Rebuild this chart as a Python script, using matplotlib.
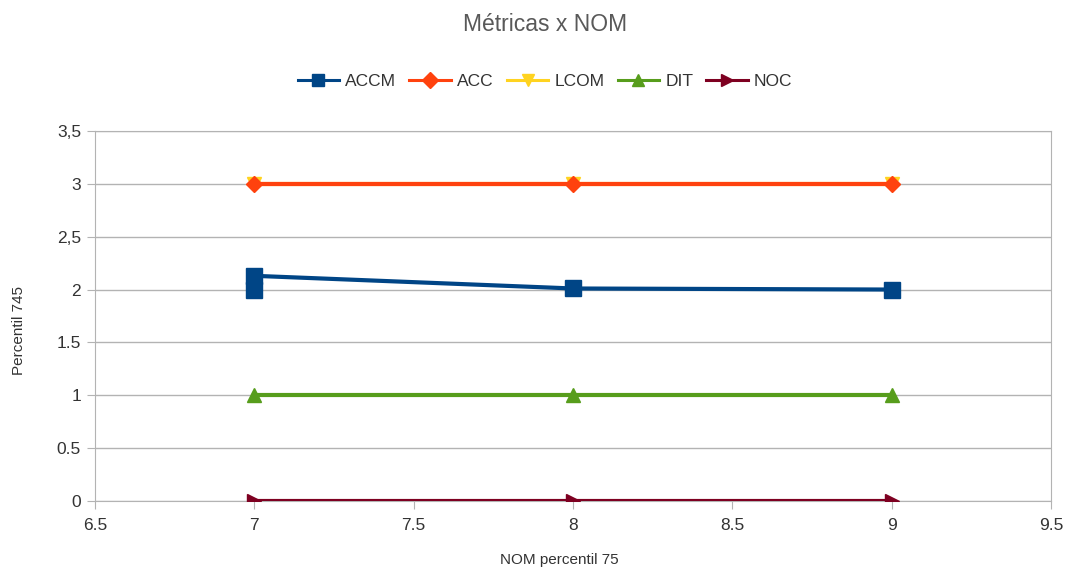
import matplotlib
matplotlib.use("Agg")
import matplotlib.pyplot as plt

plt.rcParams['font.family'] = ['Liberation Sans', 'DejaVu Sans']

# dados
nom = [7, 8, 9]
accm_x = [7, 7, 8, 9]
accm = [2.0, 2.13, 2.01, 2.0]
acc = [3, 3, 3]
lcom = [3, 3, 3]
dit = [1, 1, 1]
noc = [0, 0, 0]

x_ticks = [6.5, 7, 7.5, 8, 8.5, 9, 9.5]
x_labels = ['6.5', '7', '7.5', '8', '8.5', '9', '9.5']
y_ticks = [0, 0.5, 1, 1.5, 2, 2.5, 3, 3.5]
y_labels = ['0', '0.5', '1', '1.5', '2', '2,5', '3', '3,5']

fig = plt.figure(figsize=(10.73, 5.73), dpi=100)
ax = fig.add_axes([0.0885, 0.1257, 0.891, 0.6457])

ax.plot(accm_x, accm, color='#004586', lw=3, marker='s', ms=12, label='ACCM', zorder=5)
ax.plot(nom, acc, color='#ff420e', lw=3, marker='D', ms=8, label='ACC', zorder=4)
ax.plot(nom, lcom, color='#ffd320', lw=3, marker='v', ms=10, label='LCOM', zorder=3)
ax.plot(nom, dit, color='#579d1c', lw=3, marker='^', ms=10, label='DIT', zorder=4)
ax.plot(nom, noc, color='#7e0021', lw=3, marker='>', ms=10, label='NOC', zorder=4)

ax.set_xlim(6.5, 9.5)
ax.set_ylim(0, 3.5)
ax.set_xticks(x_ticks, x_labels)
ax.set_yticks(y_ticks, y_labels)
ax.grid(axis='y', color='#b3b3b3', lw=1)
ax.set_axisbelow(True)
for s in ax.spines.values():
    s.set_color('#b3b3b3')
ax.tick_params(colors='#b3b3b3', labelcolor='#333333', labelsize=12.5, length=6, direction='out')
ax.tick_params(axis='y', pad=4)
ax.tick_params(axis='x', pad=6)

ax.set_xlabel('NOM percentil 75', fontsize=11, color='#333333', labelpad=15)
ax.set_ylabel('Percentil 745', fontsize=11, color='#333333', labelpad=22)
ax.xaxis.label.set_x(0.486)
ax.yaxis.label.set_y(0.46)

fig.suptitle('Métricas x NOM', fontsize=16.5, color='#595959', x=0.508, y=0.978)
leg = fig.legend(loc='center', bbox_to_anchor=(0.508, 0.858), ncol=5, frameon=False,
                 fontsize=12.5, handlelength=2.4, columnspacing=0.75, handletextpad=0.35,
                 labelcolor='#333333')
for ln in leg.get_lines():
    ln.set_linewidth(2.2)
    ln.set_markersize(8)

fig.savefig('out.png', dpi=100)
